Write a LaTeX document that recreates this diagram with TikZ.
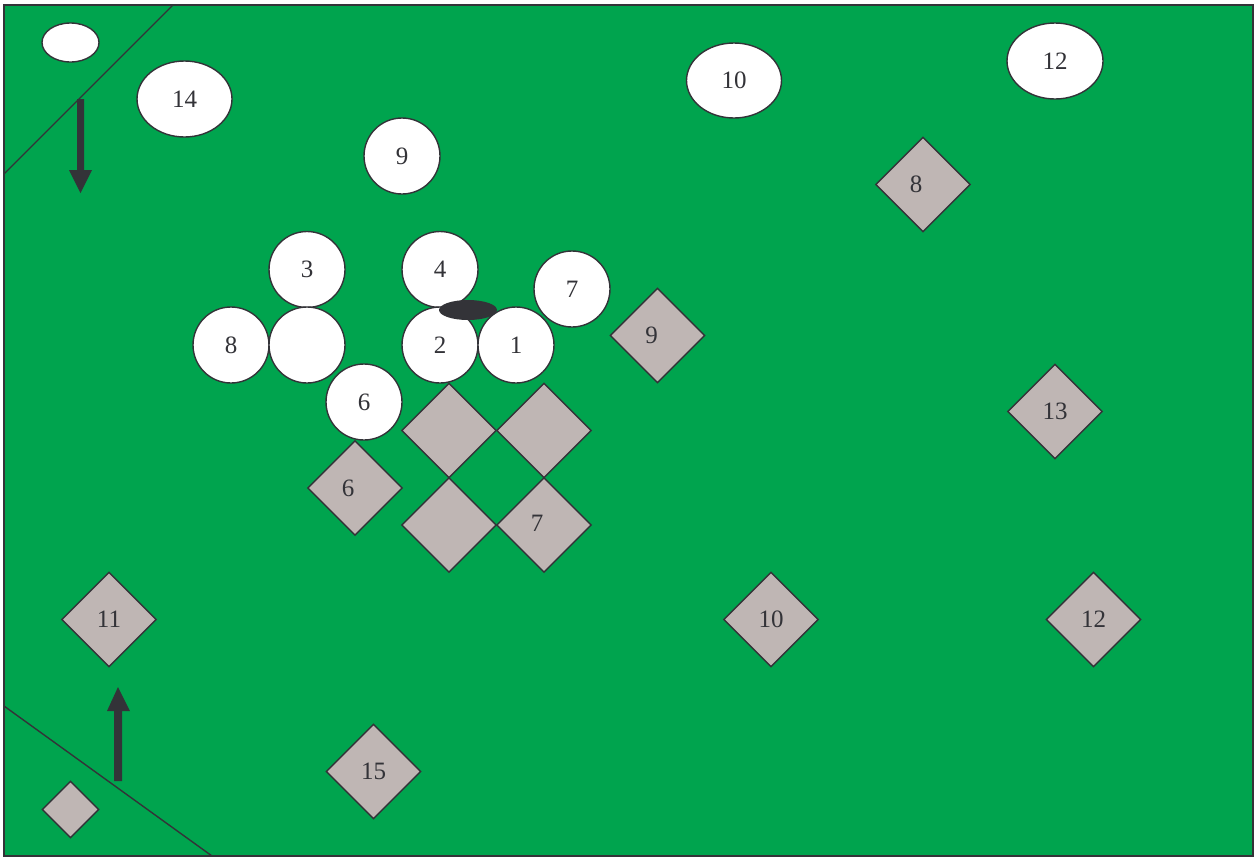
\documentclass[tikz,border=0pt]{standalone}
\usepackage{fontspec}
\setmainfont{Liberation Serif}
\usetikzlibrary{shapes.geometric}
\definecolor{field}{RGB}{0,164,78}
\definecolor{stone}{RGB}{191,182,180}
\definecolor{ink}{RGB}{51,51,56}
\begin{document}
\begin{tikzpicture}[x=1pt,y=-1pt,
  numfont/.style={text=ink,font=\fontsize{25}{29}\selectfont},
  disc/.style={circle,draw=ink,fill=white,line width=1.4pt,minimum size=76pt,inner sep=0pt,numfont},
  oval/.style={ellipse,draw=ink,fill=white,line width=1.4pt,minimum width=95pt,minimum height=75pt,inner sep=0pt,numfont},
  tile/.style={diamond,draw=ink,fill=stone,line width=1.4pt,minimum width=95pt,minimum height=95pt,inner sep=0pt,numfont},
  tilelabel/.style={numfont,inner sep=0pt},
  edge/.style={draw=ink,line width=1.4pt},
  arrowbody/.style={fill=ink,draw=none}]
\useasboundingbox (0,0) rectangle (1255,857);
% field
\draw[fill=field,draw=ink,line width=1.6pt] (4,5) rectangle (1253,856);
% corner lines
\coordinate (tlA) at (173,5);
\coordinate (tlB) at (4,174);
\coordinate (blA) at (4,706);
\coordinate (blB) at (212,856);
\draw[edge] (tlA) -- (tlB);
\draw[edge] (blA) -- (blB);
% arrows
\fill[arrowbody] (77,99) -- (84,99) -- (84,170) -- (92,170) -- (80.5,193) -- (69,170) -- (77,170) -- cycle;
\fill[arrowbody] (114,781) -- (122,781) -- (122,711) -- (130,711) -- (118,687) -- (107,711) -- (114,711) -- cycle;
% ellipses
\node[oval,minimum width=57pt,minimum height=39pt] (e0) at (70.5,42.5) {};
\node[oval,minimum height=76pt] (e14) at (184.5,99) {14};
\node[oval] (e10) at (734,80.5) {10};
\node[oval,minimum width=96pt,minimum height=76pt] (e12) at (1055,61) {12};
% circles
\node[disc] (c9) at (402,156) {9};
\node[disc] (c3) at (307,269.5) {3};
\node[disc] (c4) at (440,269.5) {4};
\node[disc] (c7) at (572,289) {7};
\node[disc] (c8) at (231,345) {8};
\node[disc] (c0) at (307,345) {};
\node[disc] (c2) at (440,345) {2};
\node[disc] (c1) at (516,345) {1};
\node[disc] (c6) at (364,402) {6};
% black ellipse
\node[ellipse,fill=ink,draw=none,minimum width=58pt,minimum height=20pt,inner sep=0pt] (blk) at (468,310) {};
% tiles
\node[tile,label={[tilelabel,xshift=-7pt]center:6}] (d6) at (355,488) {};
\node[tile] (g1) at (449,430.5) {};
\node[tile] (g2) at (544,430.5) {};
\node[tile] (g3) at (449,525) {};
\node[tile,label={[tilelabel,xshift=-7pt,yshift=2pt]center:7}] (g4) at (544,525) {};
\node[tile,label={[tilelabel,xshift=-6pt]center:9}] (d9) at (657.5,335.5) {};
\node[tile,label={[tilelabel,xshift=-7pt]center:8}] (d8) at (923,184.5) {};
\node[tile] (d13) at (1055,411.5) {13};
\node[tile] (d11) at (109,619.5) {11};
\node[tile] (d10) at (771,619.5) {10};
\node[tile] (d12) at (1093.5,619.5) {12};
\node[tile] (d15) at (373.5,771.5) {15};
\node[tile,minimum width=57pt,minimum height=57pt] (d0) at (70.5,809.5) {};
\end{tikzpicture}
\end{document}
